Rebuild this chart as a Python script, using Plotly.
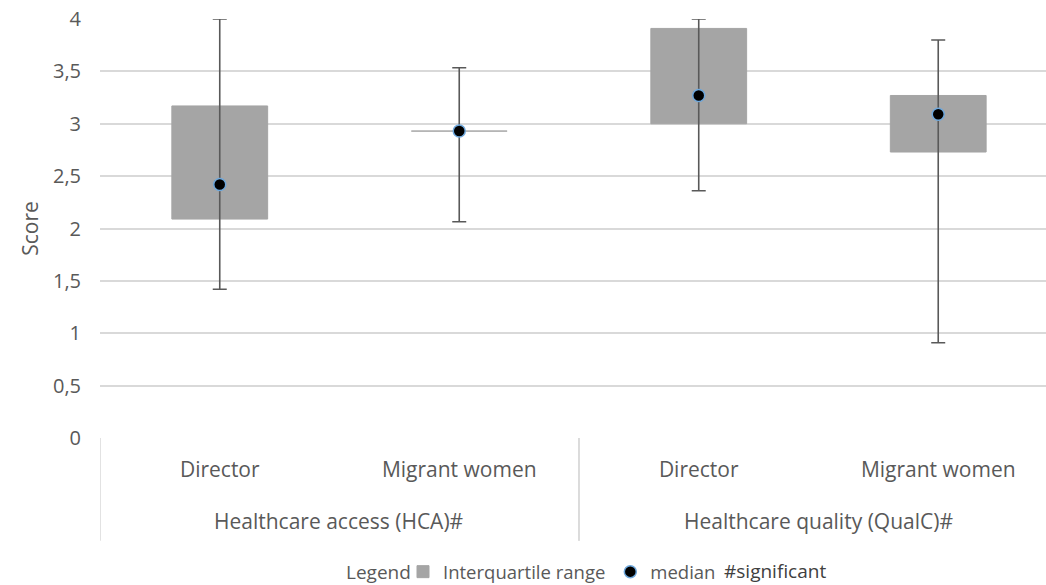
import plotly.graph_objects as go

# Score summary per construct and respondent group
groups = ["Healthcare access (HCA)#", "Healthcare access (HCA)#",
          "Healthcare quality (QualC)#", "Healthcare quality (QualC)#"]
respondents = ["Director", "Migrant women", "Director", "Migrant women"]
q1 = [2.09, 2.93, 3.00, 2.73]
q3 = [3.17, 2.93, 3.91, 3.27]
median = [2.42, 2.93, 3.27, 3.09]
minimum = [1.42, 2.065, 2.36, 0.91]
maximum = [4.00, 3.535, 4.00, 3.80]

yticks = [0, 0.5, 1, 1.5, 2, 2.5, 3, 3.5, 4]

FONT = "Open Sans"
TXT = "#595959"
GRID = "#D9D9D9"

pos = list(range(len(respondents)))

fig = go.Figure()

# interquartile boxes (zero-height boxes still show as a thin line)
fig.add_trace(go.Bar(
    x=pos,
    y=[b - a for a, b in zip(q1, q3)],
    base=q1,
    width=0.4,
    marker=dict(color="#A5A5A5", line=dict(color="#A5A5A5", width=1)),
    name="Interquartile range",
))

# medians with min-max whiskers
fig.add_trace(go.Scatter(
    x=pos,
    y=median,
    mode="markers",
    marker=dict(color="#000000", size=12, line=dict(color="#6FA8DC", width=1.5)),
    error_y=dict(
        type="data",
        symmetric=False,
        array=[mx - m for mx, m in zip(maximum, median)],
        arrayminus=[m - mn for m, mn in zip(median, minimum)],
        color="#595959",
        thickness=1.6,
        width=7,
    ),
    name="median",
))

# group labels and dividers below the category labels
group_names = []
for g in groups:
    if g not in group_names:
        group_names.append(g)

shapes = []
annotations = []
for g in group_names:
    idx = [i for i, gg in enumerate(groups) if gg == g]
    lo, hi = min(idx) - 0.5, max(idx) + 0.5
    annotations.append(dict(
        text=g, xref="x", yref="paper", x=(lo + hi) / 2, y=-0.198,
        xanchor="center", yanchor="middle", showarrow=False,
        font=dict(family=FONT, size=21, color=TXT)))
    for xb in (lo, hi):
        shapes.append(dict(
            type="line", xref="x", yref="paper", x0=xb, x1=xb, y0=0, y1=-0.245,
            line=dict(color=GRID, width=1.5)))

annotations += [
    dict(text="Legend", xref="paper", yref="paper", x=0.258, y=-0.32,
         xanchor="left", yanchor="middle", showarrow=False,
         font=dict(family=FONT, size=19, color=TXT)),
    dict(text="#significant", xref="paper", yref="paper", x=0.658, y=-0.318,
         xanchor="left", yanchor="middle", showarrow=False,
         font=dict(family=FONT, size=19, color="#404040")),
]

fig.update_layout(
    width=1046,
    height=585,
    margin=dict(l=100, r=0, t=19, b=147),
    paper_bgcolor="white",
    plot_bgcolor="white",
    separators=", ",
    font=dict(family=FONT, color=TXT, size=20),
    showlegend=True,
    legend=dict(
        orientation="h",
        x=0.3203, xanchor="left",
        yref="container",
        y=0.022, yanchor="middle",
        font=dict(family=FONT, size=18.5, color=TXT),
        bgcolor="rgba(0,0,0,0)",
    ),
    shapes=shapes,
    annotations=annotations,
)

fig.update_xaxes(
    range=[-0.5, 3.45],
    tickvals=pos,
    ticktext=respondents,
    showgrid=False,
    showline=False,
    zeroline=False,
    ticks="",
    ticklabelstandoff=17,
    tickfont=dict(family=FONT, size=21, color=TXT),
)

fig.update_yaxes(
    range=[0, 4],
    tickvals=yticks,
    showgrid=True,
    gridcolor=GRID,
    gridwidth=1.5,
    zeroline=False,
    showline=False,
    ticklabelstandoff=18,
    tickfont=dict(family=FONT, size=20, color=TXT),
    title=dict(text="Score", font=dict(family=FONT, size=21, color=TXT), standoff=8),
)

fig.write_html("out.html")
